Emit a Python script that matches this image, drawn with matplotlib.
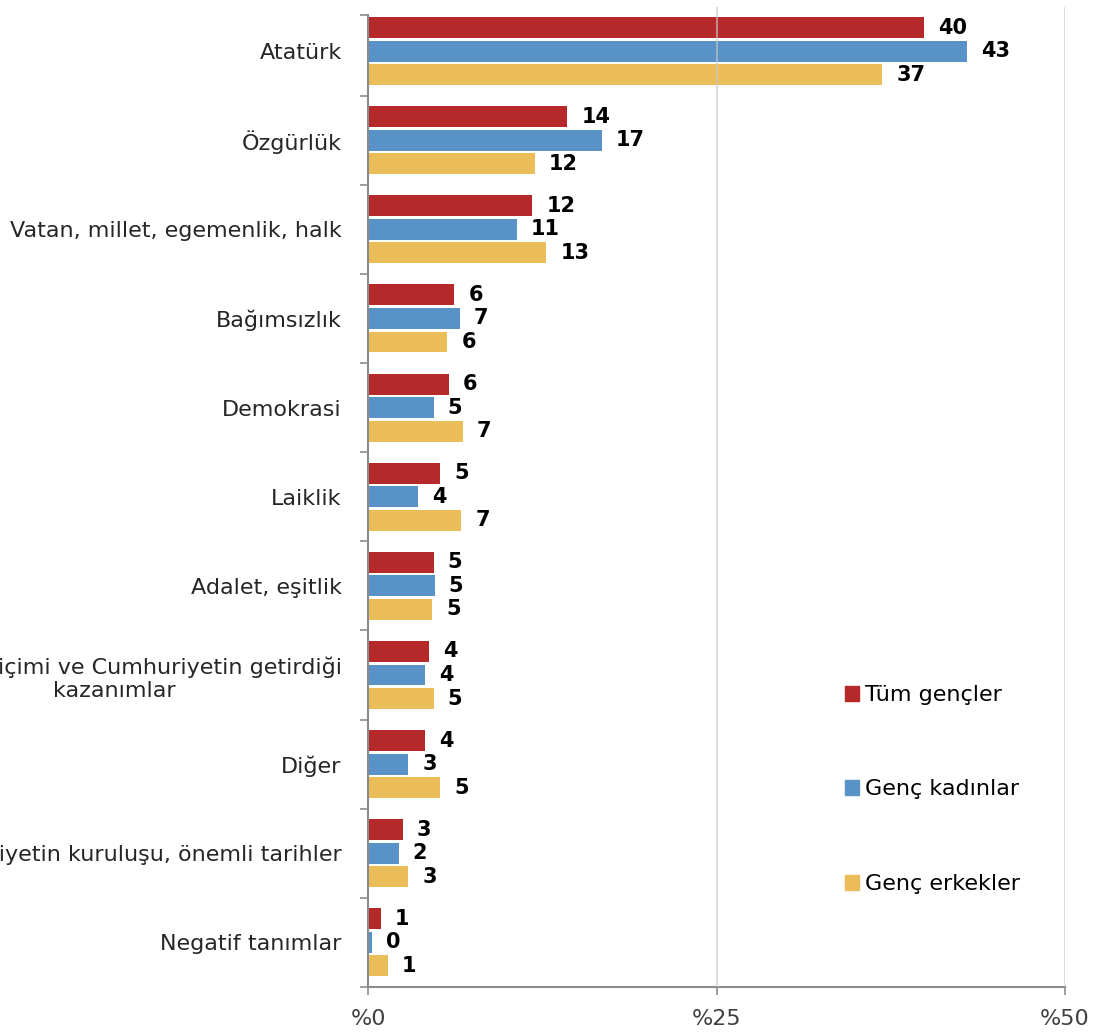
import numpy as np
import matplotlib
matplotlib.use("Agg")
import matplotlib.pyplot as plt
from matplotlib.patches import Patch

# kategori adları (yukarıdan aşağıya)
categories = [
    "Atatürk",
    "Özgürlük",
    "Vatan, millet, egemenlik, halk",
    "Bağımsızlık",
    "Demokrasi",
    "Laiklik",
    "Adalet, eşitlik",
    "Yönetim biçimi ve Cumhuriyetin getirdiği\nkazanımlar",
    "Diğer",
    "Cumhuriyetin kuruluşu, önemli tarihler",
    "Negatif tanımlar",
]
series_names = ["Tüm gençler", "Genç kadınlar", "Genç erkekler"]

# çubuk uzunlukları
tum_gencler = [39.9, 14.3, 11.8, 6.2, 5.8, 5.2, 4.7, 4.4, 4.1, 2.5, 0.9]
genc_kadinlar = [43.0, 16.8, 10.7, 6.6, 4.7, 3.6, 4.8, 4.1, 2.9, 2.2, 0.3]
genc_erkekler = [36.9, 12.0, 12.8, 5.7, 6.8, 6.7, 4.6, 4.7, 5.2, 2.9, 1.4]

# çubuk üstündeki etiketler
lbl_tum = [40, 14, 12, 6, 6, 5, 5, 4, 4, 3, 1]
lbl_kadin = [43, 17, 11, 7, 5, 4, 5, 4, 3, 2, 0]
lbl_erkek = [37, 12, 13, 6, 7, 7, 5, 5, 5, 3, 1]

x_ticks = [0, 25, 50]
x_ticklabels = ["%0", "%25", "%50"]

colors = ["#B5292B", "#5892C7", "#EBBD58"]
values = [tum_gencler, genc_kadinlar, genc_erkekler]
labels = [lbl_tum, lbl_kadin, lbl_erkek]

plt.rcParams["font.family"] = ["DejaVu Sans"]

fig = plt.figure(figsize=(10.94, 10.32), dpi=100)
ax = fig.add_axes([368 / 1094, 1 - 987 / 1032, (1065 - 368) / 1094, (987 - 6.5) / 1032])

y = np.arange(len(categories))
step = 0.264
for k in range(3):
    pos = y + (k - 1) * step
    ax.barh(pos, values[k], height=0.235, color=colors[k], zorder=2)
    for p, v, t in zip(pos, values[k], labels[k]):
        ax.annotate(str(t), xy=(v, p), xytext=(10, 0), textcoords="offset points",
                    ha="left", va="center", fontsize=15, fontweight="heavy",
                    color="black")

ax.set_xlim(0, 50)
ax.set_ylim(len(categories) - 0.5, -0.5)

# dikey ızgara çizgileri
for gx in [25, 50]:
    ax.axvline(gx, color="#c8c8c8", lw=1.3, alpha=0.7, zorder=3)

ax.set_xticks(x_ticks)
ax.set_xticklabels(x_ticklabels, fontsize=16, color="#404040")
ax.tick_params(axis="x", length=6, width=1.2, color="#8c8c8c", pad=10)

ax.set_yticks(y)
ax.set_yticklabels(categories, fontsize=16, color="#262626")
ax.tick_params(axis="y", which="major", length=0, pad=19)
ax.set_yticks([-0.4] + list(np.arange(0.5, len(categories), 1.0)), minor=True)
ax.tick_params(axis="y", which="minor", length=6, width=1.2, color="#8c8c8c")
for t in ax.get_yticklabels():
    t.set_multialignment("center")

for s in ["top", "right"]:
    ax.spines[s].set_visible(False)
ax.spines["left"].set_color("#8c8c8c")
ax.spines["left"].set_linewidth(1.5)
ax.spines["left"].set_bounds(-0.4, len(categories) - 0.5)
ax.spines["bottom"].set_color("#8c8c8c")
ax.spines["bottom"].set_linewidth(1.5)

handles = [Patch(color=c) for c in colors]
fig.legend(handles, series_names, loc="upper left", bbox_to_anchor=(845 / 1094, 1 - 685 / 1032),
           frameon=False, fontsize=16, handlelength=0.65, handleheight=0.65,
           handletextpad=0.25, labelspacing=3.35, borderpad=0, borderaxespad=0)

fig.savefig("out.png", dpi=100)
